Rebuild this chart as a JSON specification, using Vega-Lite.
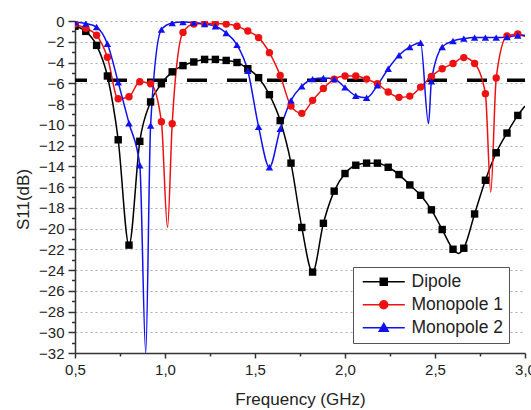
{
  "$schema": "https://vega.github.io/schema/vega-lite/v6.json",
  "width": 450,
  "height": 332,
  "autosize": {"type": "none"},
  "padding": {"left": 75, "top": 21, "right": 6, "bottom": 57},
  "background": "white",
  "config": {
    "view": {"stroke": null},
    "font": "Liberation Sans",
    "axis": {
      "domainColor": "#333", "domainWidth": 1.5, "tickColor": "#333", "tickWidth": 1.5,
      "labelFontSize": 15, "labelColor": "#222", "labelPadding": 4, "labelFont": "Liberation Sans",
      "labelFlush": false, "labelOverlap": false, "labelBound": false,
      "titleFontSize": 17, "titleFontWeight": "normal", "titleColor": "#222", "titleFont": "Liberation Sans"
    },
    "axisX": {"grid": false},
    "axisY": {"grid": true, "gridColor": "#b0b0b0", "gridDash": [2, 3], "gridWidth": 1}
  },
  "datasets": {
    "threshold": [{"level": -5.7}],
    "s11": [
      {"series": "Dipole", "freq": 0.50, "s11": -0.5, "kind": "sampled"},
      {"series": "Dipole", "freq": 0.56, "s11": -1.0, "kind": "sampled"},
      {"series": "Dipole", "freq": 0.62, "s11": -2.35, "kind": "sampled"},
      {"series": "Dipole", "freq": 0.68, "s11": -5.3, "kind": "sampled"},
      {"series": "Dipole", "freq": 0.74, "s11": -11.45, "kind": "sampled"},
      {"series": "Dipole", "freq": 0.80, "s11": -21.6, "kind": "sampled"},
      {"series": "Dipole", "freq": 0.86, "s11": -11.6, "kind": "sampled"},
      {"series": "Dipole", "freq": 0.92, "s11": -7.8, "kind": "sampled"},
      {"series": "Dipole", "freq": 0.98, "s11": -6.05, "kind": "sampled"},
      {"series": "Dipole", "freq": 1.04, "s11": -4.9, "kind": "sampled"},
      {"series": "Dipole", "freq": 1.10, "s11": -4.3, "kind": "sampled"},
      {"series": "Dipole", "freq": 1.16, "s11": -3.95, "kind": "sampled"},
      {"series": "Dipole", "freq": 1.22, "s11": -3.7, "kind": "sampled"},
      {"series": "Dipole", "freq": 1.28, "s11": -3.7, "kind": "sampled"},
      {"series": "Dipole", "freq": 1.34, "s11": -3.8, "kind": "sampled"},
      {"series": "Dipole", "freq": 1.40, "s11": -4.0, "kind": "sampled"},
      {"series": "Dipole", "freq": 1.46, "s11": -4.6, "kind": "sampled"},
      {"series": "Dipole", "freq": 1.52, "s11": -5.46, "kind": "sampled"},
      {"series": "Dipole", "freq": 1.58, "s11": -7.1, "kind": "sampled"},
      {"series": "Dipole", "freq": 1.64, "s11": -9.6, "kind": "sampled"},
      {"series": "Dipole", "freq": 1.70, "s11": -13.7, "kind": "sampled"},
      {"series": "Dipole", "freq": 1.76, "s11": -19.9, "kind": "sampled"},
      {"series": "Dipole", "freq": 1.82, "s11": -24.2, "kind": "sampled"},
      {"series": "Dipole", "freq": 1.88, "s11": -19.5, "kind": "sampled"},
      {"series": "Dipole", "freq": 1.94, "s11": -16.4, "kind": "sampled"},
      {"series": "Dipole", "freq": 2.00, "s11": -14.7, "kind": "sampled"},
      {"series": "Dipole", "freq": 2.06, "s11": -13.9, "kind": "sampled"},
      {"series": "Dipole", "freq": 2.12, "s11": -13.7, "kind": "sampled"},
      {"series": "Dipole", "freq": 2.18, "s11": -13.7, "kind": "sampled"},
      {"series": "Dipole", "freq": 2.24, "s11": -14.1, "kind": "sampled"},
      {"series": "Dipole", "freq": 2.30, "s11": -14.8, "kind": "sampled"},
      {"series": "Dipole", "freq": 2.36, "s11": -15.8, "kind": "sampled"},
      {"series": "Dipole", "freq": 2.42, "s11": -16.8, "kind": "sampled"},
      {"series": "Dipole", "freq": 2.48, "s11": -18.2, "kind": "sampled"},
      {"series": "Dipole", "freq": 2.54, "s11": -20.1, "kind": "sampled"},
      {"series": "Dipole", "freq": 2.60, "s11": -22.0, "kind": "sampled"},
      {"series": "Dipole", "freq": 2.63, "s11": -22.4, "kind": "resonance"},
      {"series": "Dipole", "freq": 2.66, "s11": -21.9, "kind": "sampled"},
      {"series": "Dipole", "freq": 2.72, "s11": -18.6, "kind": "sampled"},
      {"series": "Dipole", "freq": 2.78, "s11": -15.35, "kind": "sampled"},
      {"series": "Dipole", "freq": 2.84, "s11": -12.7, "kind": "sampled"},
      {"series": "Dipole", "freq": 2.90, "s11": -10.8, "kind": "sampled"},
      {"series": "Dipole", "freq": 2.96, "s11": -9.1, "kind": "sampled"},
      {"series": "Dipole", "freq": 3.00, "s11": -8.2, "kind": "resonance"},

      {"series": "Monopole 1", "freq": 0.50, "s11": -0.3, "kind": "sampled"},
      {"series": "Monopole 1", "freq": 0.56, "s11": -0.7, "kind": "sampled"},
      {"series": "Monopole 1", "freq": 0.62, "s11": -1.38, "kind": "sampled"},
      {"series": "Monopole 1", "freq": 0.68, "s11": -3.5, "kind": "sampled"},
      {"series": "Monopole 1", "freq": 0.74, "s11": -7.5, "kind": "sampled"},
      {"series": "Monopole 1", "freq": 0.80, "s11": -7.3, "kind": "sampled"},
      {"series": "Monopole 1", "freq": 0.86, "s11": -5.85, "kind": "sampled"},
      {"series": "Monopole 1", "freq": 0.92, "s11": -6.05, "kind": "sampled"},
      {"series": "Monopole 1", "freq": 0.98, "s11": -9.7, "kind": "sampled"},
      {"series": "Monopole 1", "freq": 1.014, "s11": -19.9, "kind": "resonance"},
      {"series": "Monopole 1", "freq": 1.04, "s11": -9.9, "kind": "sampled"},
      {"series": "Monopole 1", "freq": 1.10, "s11": -1.1, "kind": "sampled"},
      {"series": "Monopole 1", "freq": 1.16, "s11": -0.3, "kind": "sampled"},
      {"series": "Monopole 1", "freq": 1.22, "s11": -0.25, "kind": "sampled"},
      {"series": "Monopole 1", "freq": 1.28, "s11": -0.25, "kind": "sampled"},
      {"series": "Monopole 1", "freq": 1.34, "s11": -0.3, "kind": "sampled"},
      {"series": "Monopole 1", "freq": 1.40, "s11": -0.5, "kind": "sampled"},
      {"series": "Monopole 1", "freq": 1.46, "s11": -0.97, "kind": "sampled"},
      {"series": "Monopole 1", "freq": 1.52, "s11": -1.6, "kind": "sampled"},
      {"series": "Monopole 1", "freq": 1.58, "s11": -3.05, "kind": "sampled"},
      {"series": "Monopole 1", "freq": 1.64, "s11": -5.25, "kind": "sampled"},
      {"series": "Monopole 1", "freq": 1.70, "s11": -8.2, "kind": "sampled"},
      {"series": "Monopole 1", "freq": 1.76, "s11": -8.9, "kind": "sampled"},
      {"series": "Monopole 1", "freq": 1.82, "s11": -7.65, "kind": "sampled"},
      {"series": "Monopole 1", "freq": 1.88, "s11": -6.5, "kind": "sampled"},
      {"series": "Monopole 1", "freq": 1.94, "s11": -5.6, "kind": "sampled"},
      {"series": "Monopole 1", "freq": 2.00, "s11": -5.3, "kind": "sampled"},
      {"series": "Monopole 1", "freq": 2.06, "s11": -5.3, "kind": "sampled"},
      {"series": "Monopole 1", "freq": 2.12, "s11": -5.6, "kind": "sampled"},
      {"series": "Monopole 1", "freq": 2.18, "s11": -6.05, "kind": "sampled"},
      {"series": "Monopole 1", "freq": 2.24, "s11": -6.85, "kind": "sampled"},
      {"series": "Monopole 1", "freq": 2.30, "s11": -7.36, "kind": "sampled"},
      {"series": "Monopole 1", "freq": 2.36, "s11": -7.24, "kind": "sampled"},
      {"series": "Monopole 1", "freq": 2.42, "s11": -6.37, "kind": "sampled"},
      {"series": "Monopole 1", "freq": 2.48, "s11": -5.34, "kind": "sampled"},
      {"series": "Monopole 1", "freq": 2.54, "s11": -4.6, "kind": "sampled"},
      {"series": "Monopole 1", "freq": 2.60, "s11": -4.1, "kind": "sampled"},
      {"series": "Monopole 1", "freq": 2.66, "s11": -3.53, "kind": "sampled"},
      {"series": "Monopole 1", "freq": 2.72, "s11": -4.1, "kind": "sampled"},
      {"series": "Monopole 1", "freq": 2.78, "s11": -7.0, "kind": "sampled"},
      {"series": "Monopole 1", "freq": 2.81, "s11": -16.5, "kind": "resonance"},
      {"series": "Monopole 1", "freq": 2.84, "s11": -5.5, "kind": "sampled"},
      {"series": "Monopole 1", "freq": 2.90, "s11": -1.45, "kind": "sampled"},
      {"series": "Monopole 1", "freq": 2.96, "s11": -1.25, "kind": "sampled"},
      {"series": "Monopole 1", "freq": 3.00, "s11": -1.5, "kind": "resonance"},

      {"series": "Monopole 2", "freq": 0.50, "s11": -0.1, "kind": "sampled"},
      {"series": "Monopole 2", "freq": 0.56, "s11": -0.25, "kind": "sampled"},
      {"series": "Monopole 2", "freq": 0.62, "s11": -0.58, "kind": "sampled"},
      {"series": "Monopole 2", "freq": 0.68, "s11": -2.2, "kind": "sampled"},
      {"series": "Monopole 2", "freq": 0.74, "s11": -5.9, "kind": "sampled"},
      {"series": "Monopole 2", "freq": 0.80, "s11": -9.85, "kind": "sampled"},
      {"series": "Monopole 2", "freq": 0.86, "s11": -13.9, "kind": "sampled"},
      {"series": "Monopole 2", "freq": 0.893, "s11": -32, "kind": "resonance"},
      {"series": "Monopole 2", "freq": 0.92, "s11": -10.07, "kind": "sampled"},
      {"series": "Monopole 2", "freq": 0.98, "s11": -0.83, "kind": "sampled"},
      {"series": "Monopole 2", "freq": 1.04, "s11": -0.2, "kind": "sampled"},
      {"series": "Monopole 2", "freq": 1.10, "s11": -0.1, "kind": "sampled"},
      {"series": "Monopole 2", "freq": 1.16, "s11": -0.15, "kind": "sampled"},
      {"series": "Monopole 2", "freq": 1.22, "s11": -0.3, "kind": "sampled"},
      {"series": "Monopole 2", "freq": 1.28, "s11": -0.5, "kind": "sampled"},
      {"series": "Monopole 2", "freq": 1.34, "s11": -1.15, "kind": "sampled"},
      {"series": "Monopole 2", "freq": 1.40, "s11": -2.3, "kind": "sampled"},
      {"series": "Monopole 2", "freq": 1.46, "s11": -4.8, "kind": "sampled"},
      {"series": "Monopole 2", "freq": 1.52, "s11": -10.2, "kind": "sampled"},
      {"series": "Monopole 2", "freq": 1.58, "s11": -14.1, "kind": "sampled"},
      {"series": "Monopole 2", "freq": 1.64, "s11": -10.4, "kind": "sampled"},
      {"series": "Monopole 2", "freq": 1.70, "s11": -7.65, "kind": "sampled"},
      {"series": "Monopole 2", "freq": 1.76, "s11": -6.3, "kind": "sampled"},
      {"series": "Monopole 2", "freq": 1.82, "s11": -5.6, "kind": "sampled"},
      {"series": "Monopole 2", "freq": 1.88, "s11": -5.5, "kind": "sampled"},
      {"series": "Monopole 2", "freq": 1.94, "s11": -5.6, "kind": "sampled"},
      {"series": "Monopole 2", "freq": 2.00, "s11": -6.4, "kind": "sampled"},
      {"series": "Monopole 2", "freq": 2.06, "s11": -7.2, "kind": "sampled"},
      {"series": "Monopole 2", "freq": 2.12, "s11": -7.4, "kind": "sampled"},
      {"series": "Monopole 2", "freq": 2.18, "s11": -6.2, "kind": "sampled"},
      {"series": "Monopole 2", "freq": 2.24, "s11": -4.6, "kind": "sampled"},
      {"series": "Monopole 2", "freq": 2.30, "s11": -3.3, "kind": "sampled"},
      {"series": "Monopole 2", "freq": 2.36, "s11": -2.5, "kind": "sampled"},
      {"series": "Monopole 2", "freq": 2.42, "s11": -2.1, "kind": "sampled"},
      {"series": "Monopole 2", "freq": 2.464, "s11": -9.9, "kind": "resonance"},
      {"series": "Monopole 2", "freq": 2.48, "s11": -5.8, "kind": "sampled"},
      {"series": "Monopole 2", "freq": 2.54, "s11": -2.5, "kind": "sampled"},
      {"series": "Monopole 2", "freq": 2.60, "s11": -1.93, "kind": "sampled"},
      {"series": "Monopole 2", "freq": 2.66, "s11": -1.7, "kind": "sampled"},
      {"series": "Monopole 2", "freq": 2.72, "s11": -1.6, "kind": "sampled"},
      {"series": "Monopole 2", "freq": 2.78, "s11": -1.6, "kind": "sampled"},
      {"series": "Monopole 2", "freq": 2.84, "s11": -1.6, "kind": "sampled"},
      {"series": "Monopole 2", "freq": 2.90, "s11": -1.55, "kind": "sampled"},
      {"series": "Monopole 2", "freq": 2.96, "s11": -1.4, "kind": "sampled"},
      {"series": "Monopole 2", "freq": 3.00, "s11": -1.38, "kind": "resonance"}
    ]
  },
  "layer": [
    {
      "data": {"name": "threshold"},
      "mark": {"type": "rule", "color": "black", "strokeWidth": 3.5, "strokeDash": [20, 20], "strokeDashOffset": 2},
      "encoding": {
        "y": {
          "field": "level", "type": "quantitative",
          "scale": {"domain": [-32, 0], "nice": false, "zero": false},
          "axis": {
            "title": "S11(dB)",
            "values": [-32, -31, -30, -29, -28, -27, -26, -25, -24, -23, -22, -21, -20, -19, -18, -17, -16, -15, -14, -13, -12, -11, -10, -9, -8, -7, -6, -5, -4, -3, -2, -1, 0],
            "labelExpr": "datum.value % 2 == 0 ? format(datum.value, 'd') : ''",
            "tickSize": {"condition": {"test": "datum.value % 2 == 0", "value": 7}, "value": 3.5},
            "gridOpacity": {"condition": {"test": "datum.value % 2 == 0", "value": 1}, "value": 0},
            "titleX": -52, "titleY": 178, "titleBaseline": "middle", "titleAngle": -90
          }
        }
      }
    },
    {
      "data": {"name": "s11"},
      "mark": {"type": "line", "strokeWidth": 1.5, "interpolate": "monotone", "clip": true},
      "encoding": {
        "x": {
          "field": "freq", "type": "quantitative",
          "scale": {"domain": [0.5, 3.0], "nice": false, "zero": false},
          "axis": {
            "title": "Frequency (GHz)",
            "values": [0.5, 0.75, 1.0, 1.25, 1.5, 1.75, 2.0, 2.25, 2.5, 2.75, 3.0],
            "labelExpr": "abs(round(datum.value * 2) - datum.value * 2) < 0.01 ? replace(format(datum.value, '.1f'), '.', ',') : ''",
            "tickSize": {"condition": {"test": "abs(round(datum.value * 2) - datum.value * 2) < 0.01", "value": 5}, "value": 3},
            "titleBaseline": "alphabetic", "titleY": 51
          }
        },
        "y": {
          "field": "s11", "type": "quantitative",
          "scale": {"domain": [-32, 0], "nice": false, "zero": false},
          "axis": {
            "title": "S11(dB)",
            "values": [-32, -31, -30, -29, -28, -27, -26, -25, -24, -23, -22, -21, -20, -19, -18, -17, -16, -15, -14, -13, -12, -11, -10, -9, -8, -7, -6, -5, -4, -3, -2, -1, 0],
            "labelExpr": "datum.value % 2 == 0 ? format(datum.value, 'd') : ''",
            "tickSize": {"condition": {"test": "datum.value % 2 == 0", "value": 7}, "value": 3.5},
            "gridOpacity": {"condition": {"test": "datum.value % 2 == 0", "value": 1}, "value": 0},
            "titleX": -52, "titleY": 178, "titleBaseline": "middle", "titleAngle": -90
          }
        },
        "color": {
          "field": "series", "type": "nominal",
          "scale": {"domain": ["Dipole", "Monopole 1", "Monopole 2"], "range": ["#000000", "#ee1111", "#1111ee"]},
          "legend": null
        },
        "order": {"field": "freq", "type": "quantitative"}
      }
    },
    {
      "data": {"name": "s11"},
      "transform": [{"filter": "datum.kind == 'sampled'"}],
      "mark": {"type": "point", "filled": true, "opacity": 1, "size": 55, "clip": true},
      "encoding": {
        "x": {
          "field": "freq", "type": "quantitative",
          "axis": {
            "title": "Frequency (GHz)",
            "values": [0.5, 0.75, 1.0, 1.25, 1.5, 1.75, 2.0, 2.25, 2.5, 2.75, 3.0],
            "labelExpr": "abs(round(datum.value * 2) - datum.value * 2) < 0.01 ? replace(format(datum.value, '.1f'), '.', ',') : ''",
            "tickSize": {"condition": {"test": "abs(round(datum.value * 2) - datum.value * 2) < 0.01", "value": 5}, "value": 3},
            "titleBaseline": "alphabetic", "titleY": 51
          }
        },
        "y": {
          "field": "s11", "type": "quantitative",
          "axis": {
            "title": "S11(dB)",
            "values": [-32, -31, -30, -29, -28, -27, -26, -25, -24, -23, -22, -21, -20, -19, -18, -17, -16, -15, -14, -13, -12, -11, -10, -9, -8, -7, -6, -5, -4, -3, -2, -1, 0],
            "labelExpr": "datum.value % 2 == 0 ? format(datum.value, 'd') : ''",
            "tickSize": {"condition": {"test": "datum.value % 2 == 0", "value": 7}, "value": 3.5},
            "gridOpacity": {"condition": {"test": "datum.value % 2 == 0", "value": 1}, "value": 0},
            "titleX": -52, "titleY": 178, "titleBaseline": "middle", "titleAngle": -90
          }
        },
        "color": {"field": "series", "type": "nominal", "legend": null},
        "shape": {
          "field": "series", "type": "nominal",
          "scale": {"domain": ["Dipole", "Monopole 1", "Monopole 2"], "range": ["square", "circle", "triangle-up"]},
          "legend": null
        }
      }
    },
    {
      "data": {"name": "s11"},
      "transform": [{"filter": "false"}],
      "mark": {"type": "point", "filled": true, "opacity": 1},
      "encoding": {
        "fill": {
          "field": "series", "type": "nominal",
          "scale": {"domain": ["Dipole", "Monopole 1", "Monopole 2"], "range": ["#000000", "#ee1111", "#1111ee"]},
          "legend": {"title": null}
        },
        "stroke": {
          "field": "series", "type": "nominal",
          "scale": {"domain": ["Dipole", "Monopole 1", "Monopole 2"], "range": ["#000000", "#ee1111", "#1111ee"]},
          "legend": {"title": null}
        },
        "shape": {
          "field": "series", "type": "nominal",
          "scale": {
            "domain": ["Dipole", "Monopole 1", "Monopole 2"],
            "range": [
              "M-1,0H7.4M2.5,-0.7H3.9V0.7H2.5Z",
              "M-1,0H7.4M2.4,0A0.8,0.8,0,1,1,4,0A0.8,0.8,0,1,1,2.4,0Z",
              "M-1,0H7.4M3.2,-0.85L4.1,0.7H2.3Z"
            ]
          },
          "legend": {
            "title": null,
            "orient": "none", "legendX": 278, "legendY": 246,
            "symbolSize": 100, "symbolStrokeWidth": 1.5, "symbolOpacity": 1,
            "labelFontSize": 17.5, "labelFont": "Liberation Sans", "labelColor": "#222", "labelOffset": 35,
            "strokeColor": "#555", "fillColor": "white", "padding": 6, "rowPadding": 4
          }
        }
      }
    }
  ],
  "resolve": {
    "scale": {"shape": "independent", "fill": "independent", "stroke": "independent"},
    "legend": {"shape": "independent", "fill": "independent", "stroke": "independent"}
  }
}
